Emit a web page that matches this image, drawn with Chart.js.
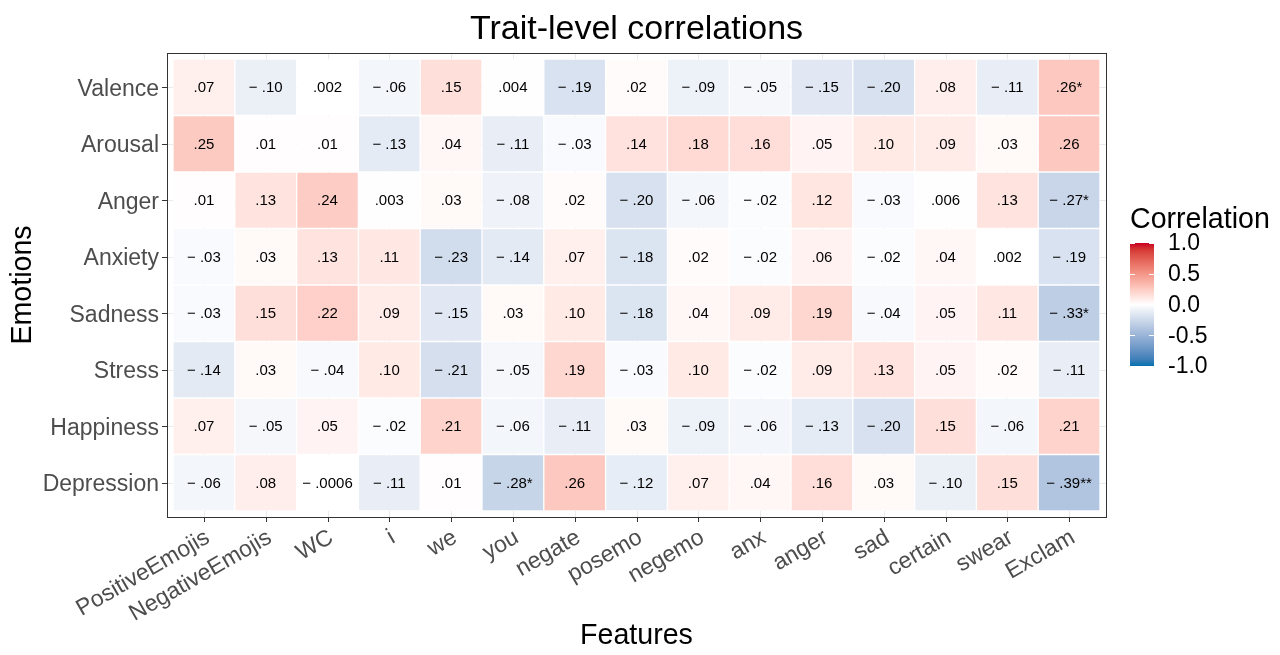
<!doctype html>
<html lang="en">
<head>
<meta charset="utf-8">
<title>Trait-level correlations</title>
<style>
  *{box-sizing:border-box;margin:0;padding:0}
  html,body{background:#fff}
  .wrap{position:relative;width:1280px;height:655px}
</style>
</head>
<body>
<div class="wrap"><canvas id="heat"></canvas></div>

<script src="https://cdn.jsdelivr.net/npm/chart.js"></script>
<script>
const features = ['PositiveEmojis','NegativeEmojis','WC','i','we','you','negate','posemo','negemo','anx','anger','sad','certain','swear','Exclam'];
const emotions = ['Valence','Arousal','Anger','Anxiety','Sadness','Stress','Happiness','Depression'];

// one row per emotion, columns follow `features`
const valence    = [ .07, -.10,  .002, -.06,  .15,  .004, -.19,  .02, -.09, -.05, -.15, -.20,  .08, -.11,  .26];
const arousal    = [ .25,  .01,  .01,  -.13,  .04, -.11,  -.03,  .14,  .18,  .16,  .05,  .10,  .09,  .03,  .26];
const anger      = [ .01,  .13,  .24,   .003, .03, -.08,   .02, -.20, -.06, -.02,  .12, -.03,  .006, .13, -.27];
const anxiety    = [-.03,  .03,  .13,   .11, -.23, -.14,   .07, -.18,  .02, -.02,  .06, -.02,  .04,  .002,-.19];
const sadness    = [-.03,  .15,  .22,   .09, -.15,  .03,   .10, -.18,  .04,  .09,  .19, -.04,  .05,  .11, -.33];
const stress     = [-.14,  .03, -.04,   .10, -.21, -.05,   .19, -.03,  .10, -.02,  .09,  .13,  .05,  .02, -.11];
const happiness  = [ .07, -.05,  .05,  -.02,  .21, -.06,  -.11,  .03, -.09, -.06, -.13, -.20,  .15, -.06,  .21];
const depression = [-.06,  .08, -.0006,-.11,  .01, -.28,   .26, -.12,  .07,  .04,  .16,  .03, -.10,  .15, -.39];
const rows = [valence, arousal, anger, anxiety, sadness, stress, happiness, depression];

// [row, column, mark]
const sigStars = [[0,14,'*'],[2,14,'*'],[4,14,'*'],[7,5,'*'],[7,14,'**']];
const legendTicks = [1, 0.5, 0, -0.5, -1];

const FONT = "'Liberation Sans', Arial, sans-serif";
Chart.defaults.font.family = FONT;

// white -> red / blue, interpolated in Lab like ggplot
const LOW = '#0571b0', MID = '#ffffff', HIGH = '#ca0020';
function hex2rgb(h){return [1,3,5].map(i=>parseInt(h.substr(i,2),16));}
function toLab([r,g,b]){
  const lin=c=>{c/=255;return c<=0.04045?c/12.92:Math.pow((c+0.055)/1.055,2.4)};
  const R=lin(r),G=lin(g),B=lin(b);
  const X=(0.4124*R+0.3576*G+0.1805*B)/0.95047, Y=0.2126*R+0.7152*G+0.0722*B, Z=(0.0193*R+0.1192*G+0.9505*B)/1.08883;
  const f=t=>t>0.008856?Math.cbrt(t):7.787*t+16/116;
  return [116*f(Y)-16, 500*(f(X)-f(Y)), 200*(f(Y)-f(Z))];
}
function fromLab([L,a,b]){
  const fy=(L+16)/116, fx=fy+a/500, fz=fy-b/200;
  const inv=t=>t*t*t>0.008856?t*t*t:(t-16/116)/7.787;
  const X=inv(fx)*0.95047, Y=inv(fy), Z=inv(fz)*1.08883;
  const R=3.2406*X-1.5372*Y-0.4986*Z, G=-0.9689*X+1.8758*Y+0.0415*Z, B=0.0557*X-0.2040*Y+1.0570*Z;
  const g=c=>{c=c<=0.0031308?12.92*c:1.055*Math.pow(c,1/2.4)-0.055;return Math.round(Math.max(0,Math.min(1,c))*255)};
  return `rgb(${g(R)},${g(G)},${g(B)})`;
}
const labLow=toLab(hex2rgb(LOW)), labMid=toLab(hex2rgb(MID)), labHigh=toLab(hex2rgb(HIGH));
function fill(v){const t=Math.min(1,Math.abs(v)), end=v<0?labLow:labHigh;return fromLab(labMid.map((m,k)=>m+(end[k]-m)*t));}

function fmt(v){
  const a=Math.abs(v);
  let s=a>=0.01?a.toFixed(2):a.toPrecision(1);
  s=s.replace(/^0/,'');
  return (v<0?'\u2212 ':'')+s;
}
function cellText(i,j){
  const st=sigStars.find(s=>s[0]===i&&s[1]===j);
  return fmt(rows[i][j])+(st?st[2]:'');
}

const GAP = 6;
const panel = {
  id:'panel',
  beforeDatasetsDraw(c){
    const {ctx,chartArea:a,scales:{x,y}}=c;
    const l=a.left-GAP,r=a.right+GAP,t=a.top-GAP,b=a.bottom+GAP;
    ctx.save();ctx.strokeStyle='#ebebeb';ctx.lineWidth=1;
    x.ticks.forEach((_,i)=>{const px=Math.round(x.getPixelForTick(i))+0.5;ctx.beginPath();ctx.moveTo(px,t);ctx.lineTo(px,b);ctx.stroke();});
    y.ticks.forEach((_,i)=>{const py=Math.round(y.getPixelForTick(i))+0.5;ctx.beginPath();ctx.moveTo(l,py);ctx.lineTo(r,py);ctx.stroke();});
    ctx.restore();
  },
  afterDatasetsDraw(c){
    const {ctx,chartArea:a,scales:{x,y}}=c;
    ctx.save();
    ctx.fillStyle='#000';ctx.font=`15px ${FONT}`;ctx.textAlign='center';ctx.textBaseline='middle';
    rows.forEach((vals,i)=>{
      c.getDatasetMeta(i).data.forEach((el,j)=>{const p=el.getCenterPoint();ctx.fillText(cellText(i,j),p.x,p.y+1);});
    });
    const l=a.left-GAP,r=a.right+GAP,t=a.top-GAP,b=a.bottom+GAP;
    ctx.strokeStyle='#333';ctx.lineWidth=1;
    ctx.strokeRect(Math.round(l)+0.5,Math.round(t)+0.5,Math.round(r-l),Math.round(b-t));
    ctx.beginPath();
    x.ticks.forEach((_,i)=>{const px=Math.round(x.getPixelForTick(i))+0.5;ctx.moveTo(px,b);ctx.lineTo(px,b+5);});
    y.ticks.forEach((_,i)=>{const py=Math.round(y.getPixelForTick(i))+0.5;ctx.moveTo(l,py);ctx.lineTo(l-5,py);});
    ctx.stroke();
    ctx.restore();
  },
  afterDraw(c){
    const {ctx,chartArea:a}=c;
    ctx.save();
    // title
    ctx.fillStyle='#000';ctx.font=`34px ${FONT}`;ctx.textAlign='center';ctx.textBaseline='alphabetic';
    ctx.fillText('Trait-level correlations',(a.left+a.right)/2,39);
    // legend
    const bx=1130,bw=24,by=243,bh=123;
    ctx.textAlign='left';ctx.font=`28.6px ${FONT}`;
    ctx.fillText('Correlation',bx,228);
    const g=ctx.createLinearGradient(0,by,0,by+bh);
    for(let k=0;k<=20;k++){const v=1-k/10;g.addColorStop(k/20,fill(v));}
    ctx.fillStyle=g;ctx.fillRect(bx,by,bw,bh);
    ctx.strokeStyle='#fff';ctx.lineWidth=1;ctx.beginPath();
    ctx.font=`23px ${FONT}`;ctx.textBaseline='middle';
    legendTicks.forEach(v=>{
      const py=by+(1-v)/2*bh;
      ctx.moveTo(bx,Math.round(py)+0.5);ctx.lineTo(bx+5,Math.round(py)+0.5);
      ctx.moveTo(bx+bw-5,Math.round(py)+0.5);ctx.lineTo(bx+bw,Math.round(py)+0.5);
    });
    ctx.stroke();
    ctx.fillStyle='#000';
    legendTicks.forEach(v=>{ctx.fillText(v.toFixed(1),1168,by+(1-v)/2*bh+1);});
    ctx.restore();
  }
};

new Chart(document.getElementById('heat'),{
  type:'bar',
  data:{
    labels:features,
    datasets:rows.map((vals,i)=>({
      label:emotions[i],
      data:vals.map(()=>[i,i+1]),
      backgroundColor:vals.map(fill),
      borderColor:'rgba(255,255,255,0.6)',
      borderWidth:1,
      borderSkipped:false,
      barPercentage:1,
      categoryPercentage:1,
      grouped:false
    }))
  },
  options:{
    animation:false,
    responsive:true,
    maintainAspectRatio:false,
    layout:{padding:{top:59,right:180,left:0,bottom:0}},
    plugins:{legend:{display:false},tooltip:{enabled:false}},
    scales:{
      x:{
        type:'category',offset:true,
        grid:{display:false},border:{display:false},
        ticks:{color:'#4d4d4d',font:{size:23},minRotation:30,maxRotation:30,autoSkip:false,padding:5,labelOffset:4},
        title:{display:true,text:'Features',color:'#000',font:{size:28.6},padding:{top:0,bottom:2}},
        afterFit(s){s.height=144;}
      },
      y:{
        type:'linear',min:0,max:8,reverse:true,
        grid:{display:false},border:{display:false},
        afterBuildTicks(s){s.ticks=emotions.map((_,i)=>({value:i+0.5}));},
        ticks:{color:'#4d4d4d',font:{size:23},padding:6,labelOffset:2,callback:(v,i)=>emotions[i]},
        title:{display:true,text:'Emotions',color:'#000',font:{size:28.6},padding:{top:6,bottom:0}},
        afterFit(s){s.width=173;}
      }
    }
  },
  plugins:[panel]
});
</script>
</body>
</html>
